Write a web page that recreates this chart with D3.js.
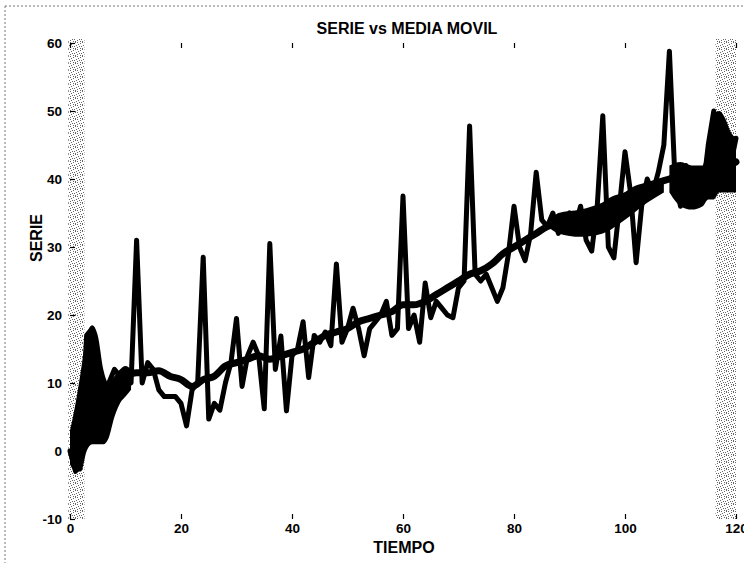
<!DOCTYPE html>
<html>
<head>
<meta charset="utf-8">
<script src="https://cdn.jsdelivr.net/npm/d3@7/dist/d3.min.js"></script>
<style>
    body { margin: 0; background: #fff; }
    text { font-family: Arial, "Liberation Sans", sans-serif; font-weight: bold; fill: #000; }
</style>
</head>
<body>
<svg id="chart" width="744" height="563"></svg>
<script>
// Serie mensual (t = 0..120)
var serie = [
    0, -3, 2, 17, 18, 2, 8, 10, 12, 11,
    12, 10, 31, 10, 13, 12, 9, 8, 8, 8,
    7, 3.7, 9, 10, 28.5, 4.7, 7, 6, 10, 13,
    19.5, 9.5, 14, 16, 14, 6.2, 30.5, 12, 16.9, 5.9,
    14, 15, 19, 10.8, 17, 16, 17.5, 15.5, 27.5, 16,
    18, 21, 18, 14, 18, 19, 20, 22, 17, 18,
    37.5, 18, 20, 16, 24.7, 19.6, 22, 21, 20, 19.6,
    24, 25, 47.8, 26, 25, 26, 24, 22, 24, 29,
    36, 30, 28, 32, 41, 34, 33, 35, 32, 34,
    35, 33, 36, 31, 29.4, 36, 49.3, 30, 28.4, 36,
    44, 38, 27.7, 36, 40, 38, 41, 45, 58.8, 40,
    36, 42, 37, 41, 38, 45, 50, 40, 48, 42,
    46
];

// Media movil
var mediaT = [6, 8, 10, 12, 14, 16, 18, 20, 22, 24, 26, 28, 30, 32, 34, 36, 38, 40,
    42, 44, 46, 48, 50, 52, 54, 56, 58, 60, 62, 64, 66, 68, 70, 72, 74, 76, 78, 80,
    82, 84, 86, 88, 90, 92, 94, 96, 98, 100, 102, 104, 106, 108, 110, 112, 114, 116, 118, 120];
var mediaMovil = [8, 10, 11, 11.5, 11.5, 11.8, 11, 10.5, 9.5, 10.5, 11, 12.5, 13, 13.5, 14, 13.5, 14, 14.5,
    15, 16, 17, 17.5, 18, 19, 19.5, 20, 20.5, 21.5, 21.5, 22, 23, 24, 25, 26, 26.5, 27.5, 29, 30,
    31, 32, 33, 33.5, 34, 34.5, 35, 36, 37, 37.5, 38.5, 39, 39.5, 40, 40.5, 40.5, 41, 42, 42, 42.5];

// Zonas densas (envolventes)
var densoIzqT = [0, 1, 2, 3, 4, 5, 6, 7, 8, 9, 10, 11];
var densoIzqBajo = [-2, -3, -3, 0, 1, 1, 1, 2, 5, 7, 8, 9];
var densoIzqAlto = [3, 7, 12, 17, 18.5, 17, 12, 10, 11, 12, 12.5, 12];
var densoMedT = [86, 88, 92, 96, 100, 104, 107];
var densoMedBajo = [33, 32, 31.5, 32, 34, 36.5, 38];
var densoMedAlto = [33, 35, 35.5, 36.5, 38, 39.5, 40];
var densoDerT = [108, 110, 112, 114, 115, 116, 117, 118, 119, 120];
var densoDerBajo = [38, 36, 35.5, 36, 37, 37, 38, 38, 38, 38];
var densoDerAlto = [42, 42.5, 42, 42, 46, 49.5, 50, 49, 47, 46];

// Bandas grises del escaneo (en unidades de tiempo)
var bandas = [[-0.3, 2.6], [116.3, 120]];

var xTicks = [0, 20, 40, 60, 80, 100, 120];
var yTicks = [-10, 0, 10, 20, 30, 40, 50, 60];

function drawChart() {
    var svg = d3.select("#chart");
    var left = 70, right = 736, top = 43, bottom = 519;

    var xScale = d3.scaleLinear().domain([0, 120]).range([left, right]);
    var yScale = d3.scaleLinear().domain([-10, 60]).range([bottom, top]);

    // dotted page border
    svg.append("line").attr("x1", 5).attr("x2", 744).attr("y1", 6).attr("y2", 6)
        .attr("stroke", "#777").attr("stroke-dasharray", "2,2");
    svg.append("line").attr("x1", 5).attr("x2", 5).attr("y1", 6).attr("y2", 563)
        .attr("stroke", "#777").attr("stroke-dasharray", "2,2");

    // stipple pattern
    var defs = svg.append("defs");
    var pat = defs.append("pattern").attr("id", "stipple")
        .attr("width", 7).attr("height", 7).attr("patternUnits", "userSpaceOnUse");
    [[0, 0], [3, 1], [5, 0], [1, 2], [6, 3], [2, 4], [4, 4], [0, 5], [5, 6], [3, 6]].forEach(function (p) {
        pat.append("rect").attr("x", p[0]).attr("y", p[1]).attr("width", 1).attr("height", 1).attr("fill", "#000");
    });

    bandas.forEach(function (b) {
        svg.append("rect")
            .attr("x", xScale(b[0])).attr("y", yScale(60) - 4)
            .attr("width", xScale(b[1]) - xScale(b[0]))
            .attr("height", yScale(-10) - yScale(60) + 4)
            .attr("fill", "url(#stipple)").attr("opacity", 0.6);
    });

    // axes (ticks inward, no box)
    var fmt = function (d) { return String(d); };
    var axB = d3.axisBottom(xScale).tickValues(xTicks).tickFormat(fmt).tickSizeInner(-5).tickSizeOuter(0).tickPadding(4);
    var axT = d3.axisTop(xScale).tickValues(xTicks).tickSizeInner(-5).tickSizeOuter(0).tickFormat("");
    var axL = d3.axisLeft(yScale).tickValues(yTicks).tickFormat(fmt).tickSizeInner(-5).tickSizeOuter(0).tickPadding(8);

    var gB = svg.append("g").attr("transform", "translate(0," + bottom + ")").call(axB);
    var gT = svg.append("g").attr("transform", "translate(0," + top + ")").call(axT);
    var gL = svg.append("g").attr("transform", "translate(" + left + ",0)").call(axL);
    [gB, gT, gL].forEach(function (g) {
        g.select(".domain").remove();
        g.selectAll("line").attr("stroke", "#000").attr("stroke-width", 1.2);
        g.selectAll("text").style("font-size", "13.5px").style("font-family", "Arial, 'Liberation Sans', sans-serif")
            .style("font-weight", "bold");
    });

    // dense regions
    function drawDense(ts, lo, hi) {
        var pts = ts.map(function (t, i) { return { t: t, lo: lo[i], hi: hi[i] }; });
        var area = d3.area()
            .x(function (d) { return xScale(d.t); })
            .y0(function (d) { return yScale(d.lo); })
            .y1(function (d) { return yScale(d.hi); })
            .curve(d3.curveMonotoneX);
        svg.append("path").attr("d", area(pts)).attr("fill", "#000");
    }
    drawDense(densoIzqT, densoIzqBajo, densoIzqAlto);
    drawDense(densoMedT, densoMedBajo, densoMedAlto);
    drawDense(densoDerT, densoDerBajo, densoDerAlto);

    // moving average
    var maLine = d3.line()
        .x(function (d, i) { return xScale(mediaT[i]); })
        .y(function (d) { return yScale(d); })
        .curve(d3.curveMonotoneX);
    svg.append("path").attr("d", maLine(mediaMovil))
        .attr("fill", "none").attr("stroke", "#000").attr("stroke-width", 7)
        .attr("stroke-linejoin", "round").attr("stroke-linecap", "round");

    // series
    var serieLine = d3.line()
        .x(function (d, i) { return xScale(i); })
        .y(function (d) { return yScale(d); });
    svg.append("path").attr("d", serieLine(serie))
        .attr("fill", "none").attr("stroke", "#000").attr("stroke-width", 5)
        .attr("stroke-linejoin", "round").attr("stroke-linecap", "round");

    // titles
    svg.append("text").attr("x", 407).attr("y", 28).attr("text-anchor", "middle")
        .attr("dominant-baseline", "central").style("font-size", "16px")
        .text("SERIE vs MEDIA MOVIL");
    svg.append("text").attr("x", 404).attr("y", 547).attr("text-anchor", "middle")
        .attr("dominant-baseline", "central").style("font-size", "16px")
        .text("TIEMPO");
    svg.append("text").attr("transform", "translate(36,238) rotate(-90)")
        .attr("text-anchor", "middle").attr("dominant-baseline", "central")
        .style("font-size", "16px").text("SERIE");
}

drawChart();
</script>
</body>
</html>
